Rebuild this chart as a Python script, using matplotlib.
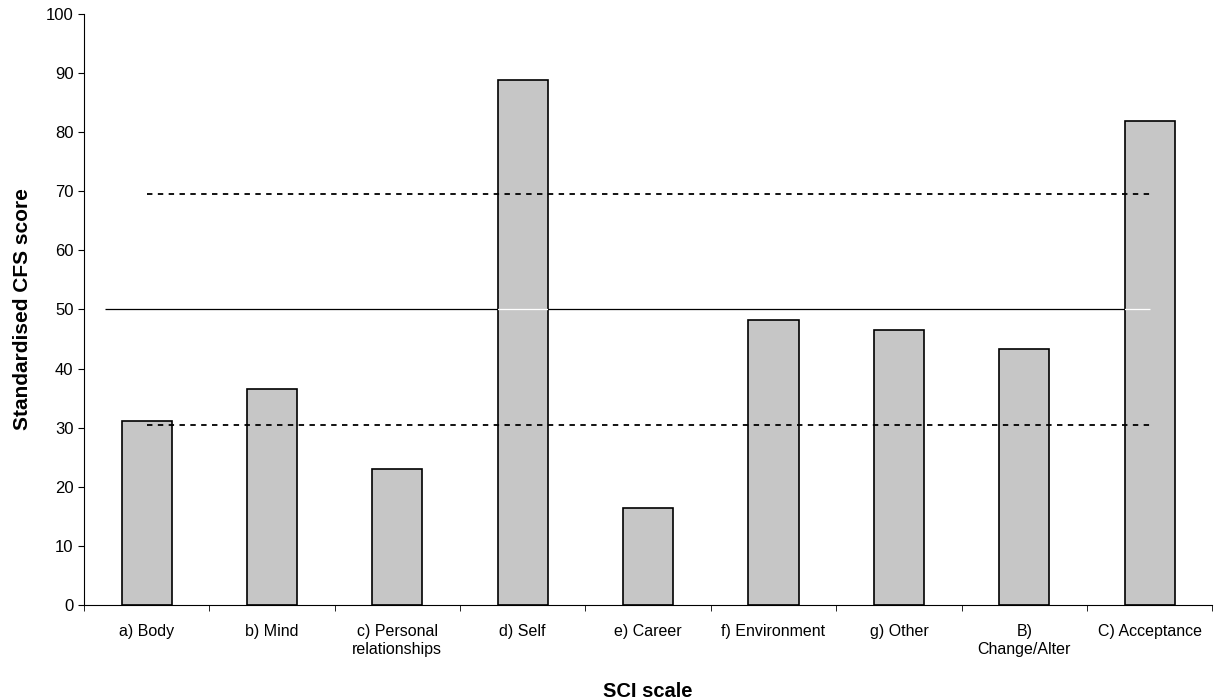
import numpy as np
import matplotlib
matplotlib.use("Agg")
import matplotlib.pyplot as plt

plt.rcParams['font.family'] = ['Liberation Sans', 'DejaVu Sans']

categories = ["a) Body", "b) Mind", "c) Personal\nrelationships", "d) Self", "e) Career",
              "f) Environment", "g) Other", "B)\nChange/Alter", "C) Acceptance"]
scores = [31.1, 36.5, 23.0, 88.8, 16.4, 48.2, 46.5, 43.3, 81.9]
upper_limit = 69.5
mean_line = 50
lower_limit = 30.5

fig = plt.figure(figsize=(12.16, 6.99), dpi=100)
ax = fig.add_axes([0.069, 0.1345, 0.928, 0.8455])

x = np.arange(len(categories))
last = len(categories) - 1
ax.hlines(mean_line, -0.33, last, colors='black', linewidth=0.9, zorder=1)
bars = ax.bar(x, scores, width=0.4, color='#c6c6c6', edgecolor='black', linewidth=1.2, zorder=2)
# mean line shows as a light streak inside the taller bars
for b in bars:
    streak = ax.hlines(mean_line, -0.33, last, colors='white', linewidth=0.9, zorder=2.5)
    streak.set_clip_path(b)
ax.hlines([upper_limit, lower_limit], 0, last, colors='black',
          linestyles=(0, (3, 3)), linewidth=1.3, zorder=3)

ax.set_xlim(-0.5, len(categories) - 0.5)
ax.set_ylim(0, 100)
ax.set_yticks(range(0, 101, 10))
ax.set_xticks(x)
ax.set_xticklabels(categories, fontsize=11.5)
ax.set_xticks(np.arange(-0.5, len(categories), 1), minor=True)
ax.tick_params(axis='x', which='major', length=0, pad=14)
ax.tick_params(axis='x', which='minor', length=4, direction='out')
ax.tick_params(axis='y', labelsize=12, length=4, direction='out')
for s in ['top', 'right']:
    ax.spines[s].set_visible(False)

ax.set_ylabel("Standardised CFS score", fontsize=15, fontweight='bold', labelpad=10)
ax.set_xlabel("SCI scale", fontsize=14.5, fontweight='bold', labelpad=18)

fig.savefig("out.png", dpi=100)
